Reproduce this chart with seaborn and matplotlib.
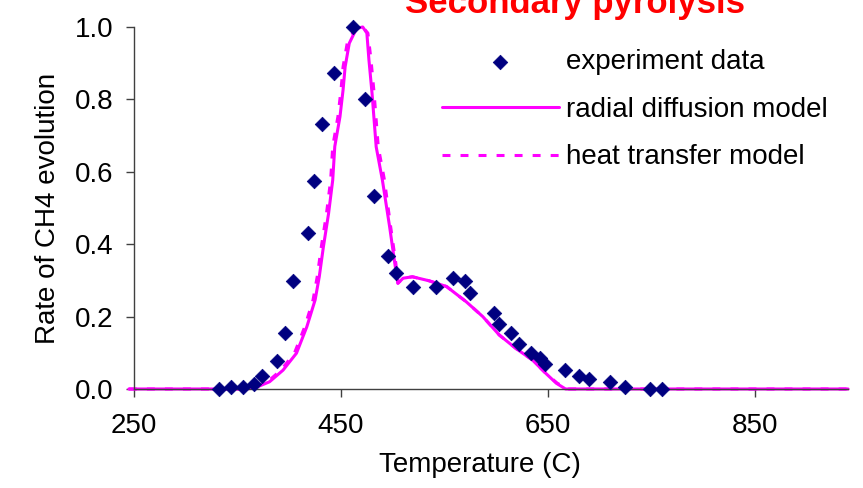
import numpy as np
import pandas as pd
import matplotlib
matplotlib.use("Agg")
import matplotlib.pyplot as plt
import seaborn as sns

# experiment data
exp_temp = [332, 344, 355, 366, 374, 388, 396, 404, 418, 424, 432, 443, 462, 473,
            482, 495, 503, 520, 542, 558, 570, 575, 598, 603, 614, 622, 634, 642,
            647, 666, 680, 690, 710, 724, 749, 760]
exp_rate = [0.0, 0.006, 0.006, 0.014, 0.037, 0.077, 0.156, 0.298, 0.432, 0.574,
            0.731, 0.874, 1.0, 0.802, 0.534, 0.368, 0.321, 0.281, 0.282, 0.306,
            0.299, 0.264, 0.211, 0.179, 0.156, 0.123, 0.100, 0.085, 0.068, 0.052,
            0.037, 0.028, 0.020, 0.006, 0.0, 0.0]

# radial diffusion model
rd_temp = [245, 355, 366, 381, 394, 407, 417, 425, 429, 433, 438, 442, 444, 449,
           452, 454, 458, 465, 471, 475, 477, 480, 484, 490, 497, 502, 505, 510,
           519, 535, 552, 571, 587, 603, 619, 635, 648, 658, 667, 940]
rd_rate = [0.0, 0.0, 0.002, 0.02, 0.052, 0.099, 0.172, 0.246, 0.31, 0.393, 0.485,
           0.577, 0.67, 0.752, 0.826, 0.89, 0.955, 0.996, 1.0, 0.983, 0.909, 0.817,
           0.669, 0.577, 0.448, 0.347, 0.292, 0.306, 0.31, 0.299, 0.283, 0.241,
           0.2, 0.149, 0.112, 0.08, 0.043, 0.016, 0.0, 0.0]

# heat transfer model (almost on top of the radial one)
ht_temp = [245, 353, 364, 379, 392, 405, 415, 423, 427, 431, 436, 440, 442, 447,
           450, 452, 456, 464, 471, 476, 479, 482, 486, 492, 498, 503, 505, 510,
           519, 535, 552, 571, 587, 603, 619, 635, 648, 659, 669, 940]
ht_rate = [0.0, 0.0, 0.002, 0.02, 0.052, 0.099, 0.172, 0.246, 0.31, 0.393, 0.485,
           0.577, 0.67, 0.752, 0.826, 0.89, 0.955, 0.996, 1.0, 0.983, 0.909, 0.817,
           0.669, 0.577, 0.448, 0.347, 0.292, 0.306, 0.31, 0.299, 0.283, 0.241,
           0.2, 0.149, 0.112, 0.08, 0.043, 0.016, 0.0, 0.0]

x_ticks = [250, 450, 650, 850]
y_ticks = [0.0, 0.2, 0.4, 0.6, 0.8, 1.0]

sns.set_theme(style="ticks", rc={"text.color": "black", "axes.labelcolor": "black",
                                 "xtick.color": "black", "ytick.color": "black"})
plt.rcParams["font.family"] = ["Liberation Sans", "DejaVu Sans"]

exp_df = pd.DataFrame({"T": exp_temp, "rate": exp_rate})
rd_df = pd.DataFrame({"T": rd_temp, "rate": rd_rate})
ht_df = pd.DataFrame({"T": ht_temp, "rate": ht_rate})

fig = plt.figure(figsize=(8.63, 4.88), dpi=100)
ax = fig.add_axes([0.1553, 0.2029, 0.8274, 0.7418])

magenta = "#FF00FF"
sns.lineplot(data=rd_df, x="T", y="rate", ax=ax, color=magenta, lw=2.2,
             sort=False, label="radial diffusion model", clip_on=False, zorder=2)
sns.lineplot(data=ht_df, x="T", y="rate", ax=ax, color=magenta, lw=2.2,
             sort=False, label="heat transfer model", clip_on=False, zorder=2,
             linestyle=(0, (2.6, 3.3)))
sns.scatterplot(data=exp_df, x="T", y="rate", ax=ax, marker="D", s=55,
                color="#000080", edgecolor="#000080", linewidth=0.5,
                label="experiment data", clip_on=False, zorder=3)

ax.set_xlim(250, 940)
ax.set_ylim(0, 1.0)
ax.set_xticks(x_ticks)
ax.set_yticks(y_ticks)
ax.set_yticklabels([f"{v:.1f}" for v in y_ticks])
ax.tick_params(axis="both", labelsize=20, length=6, width=1, color="#404040",
               labelcolor="black")
ax.tick_params(axis="x", pad=11)
ax.tick_params(axis="y", pad=9)
for side in ["top", "right"]:
    ax.spines[side].set_visible(False)
for side in ["left", "bottom"]:
    ax.spines[side].set_color("#404040")
    ax.spines[side].set_linewidth(1)

ax.set_xlabel("Temperature (C)", fontsize=20, color="black")
ax.set_ylabel("Rate of CH4 evolution", fontsize=20, labelpad=10, color="black")
ax.xaxis.set_label_coords(0.485, -0.175)

handles, labels = ax.get_legend_handles_labels()
order = [labels.index("experiment data"), labels.index("radial diffusion model"),
         labels.index("heat transfer model")]
leg = ax.legend([handles[i] for i in order], [labels[i] for i in order],
                loc="upper left", bbox_to_anchor=(0.4832, 0.951),
                bbox_transform=fig.transFigure, frameon=False,
                fontsize=20, handlelength=4.2, handletextpad=0.25, labelspacing=0.78)
for t in leg.get_texts():
    t.set_color("black")

# title sits at the very top edge, partly cut off as in the original slide
fig.text(0.666, 0.973, "Secondary pyrolysis", color="red", fontsize=25,
         fontweight="bold", ha="center", va="baseline")

fig.savefig("out.png", dpi=100)
